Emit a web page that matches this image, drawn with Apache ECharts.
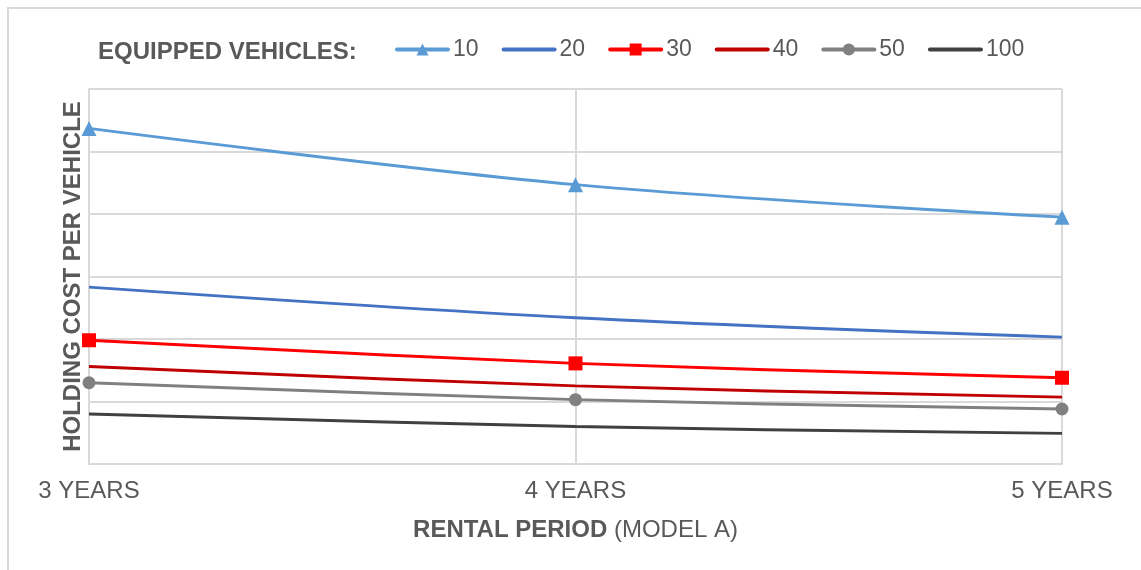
<!DOCTYPE html>
<html>
<head>
<meta charset="utf-8">
<script src="https://cdn.jsdelivr.net/npm/echarts@6/dist/echarts.min.js"></script>
<style>
  html, body { margin: 0; padding: 0; background: #fff; }
  #main { width: 1141px; height: 570px; }
</style>
</head>
<body>
<div id="main"></div>
<script>
// categories and values (y axis has no labels, 0..6 scale)
var periods = ['3 YEARS', '4 YEARS', '5 YEARS'];
var seriesNames = ['10', '20', '30', '40', '50', '100'];
var v10 = [5.37, 4.47, 3.95];
var v20 = [2.83, 2.34, 2.03];
var v30 = [1.98, 1.61, 1.38];
var v40 = [1.56, 1.25, 1.07];
var v50 = [1.30, 1.03, 0.88];
var v100 = [0.80, 0.60, 0.49];

var colors = ['#5b9bd5', '#4472c4', '#ff0000', '#c00000', '#808080', '#404040'];
var symbols = ['triangle', 'none', 'rect', 'none', 'circle', 'none'];
var symbolSizes = [15, 0, 14, 0, 13, 0];
var allValues = [v10, v20, v30, v40, v50, v100];

var textColor = '#595959';
var gridColor = '#d9d9d9';
var fontFamily = 'Liberation Sans, Arial, sans-serif';

var series = [];
var legendData = [];
for (var i = 0; i < seriesNames.length; i++) {
    series.push({
        name: seriesNames[i],
        type: 'line',
        data: allValues[i],
        smooth: 0.35,
        symbol: symbols[i] === 'none' ? 'circle' : symbols[i],
        symbolSize: symbolSizes[i],
        showSymbol: symbols[i] !== 'none',
        lineStyle: { color: colors[i], width: 3 },
        itemStyle: { color: colors[i] },
        emphasis: { disabled: true },
        animation: false
    });
    var item = { name: seriesNames[i] };
    if (symbols[i] === 'none') item.itemStyle = { opacity: 0 };
    legendData.push(item);
}

var myChart = echarts.init(document.getElementById('main'));
var option = {
    backgroundColor: '#fff',
    textStyle: { fontFamily: fontFamily },
    graphic: [{
        type: 'rect',
        shape: { x: 8, y: 8, width: 1200, height: 700 },
        style: { fill: 'none', stroke: gridColor, lineWidth: 2 },
        silent: true
    }, {
        type: 'text',
        left: 98,
        top: 40,
        style: {
            text: 'EQUIPPED VEHICLES:',
            fill: textColor,
            font: 'bold 24px ' + fontFamily
        },
        silent: true
    }],
    legend: {
        data: legendData,
        left: 390,
        top: 33,
        itemWidth: 51,
        itemHeight: 15,
        itemGap: 23,
        lineStyle: { width: 4, cap: 'round' },
        textStyle: { color: textColor, fontSize: 23, fontFamily: fontFamily }
    },
    grid: { left: 89, right: 79, top: 89, bottom: 106, containLabel: false },
    xAxis: {
        type: 'category',
        data: periods,
        boundaryGap: false,
        axisLine: { lineStyle: { color: gridColor, width: 2 } },
        axisTick: { show: false },
        axisLabel: { color: textColor, fontSize: 24, margin: 15 },
        splitLine: { show: true, lineStyle: { color: gridColor, width: 2 } },
        name: '{b|RENTAL PERIOD }{n|(MODEL A)}',
        nameLocation: 'middle',
        nameGap: 54,
        nameTextStyle: {
            rich: {
                b: { color: textColor, fontSize: 24, fontWeight: 'bold' },
                n: { color: textColor, fontSize: 24 }
            }
        }
    },
    yAxis: {
        type: 'value',
        min: 0,
        max: 6,
        interval: 1,
        axisLine: { show: true, lineStyle: { color: gridColor, width: 2 } },
        axisTick: { show: false },
        axisLabel: { show: false },
        splitLine: { lineStyle: { color: gridColor, width: 2 } },
        name: 'HOLDING COST PER VEHICLE',
        nameLocation: 'middle',
        nameRotate: 90,
        nameGap: 4,
        nameTextStyle: { color: textColor, fontSize: 24, fontWeight: 'bold' }
    },
    series: series
};
myChart.setOption(option);
</script>
</body>
</html>
